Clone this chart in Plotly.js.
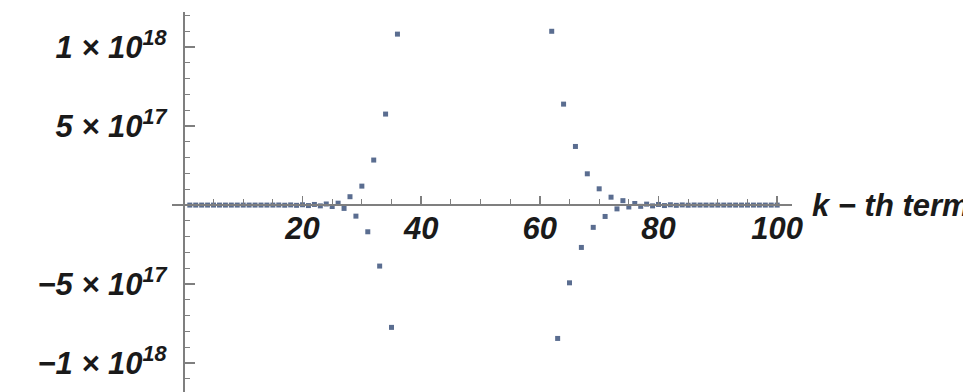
<!DOCTYPE html>
<html>
<head>
<meta charset="utf-8">
<script src="https://cdn.plot.ly/plotly-3.0.1.min.js"></script>
<style>html,body{margin:0;padding:0;background:#fff;}#chart{width:963px;height:392px;}</style>
</head>
<body>
<div id="chart"></div>
<script>
// k-th term index (left group and right group; terms 37..61 lie outside the visible range)
var kLeft = [1,2,3,4,5,6,7,8,9,10,11,12,13,14,15,16,17,18,19,20,21,22,23,24,25,26,27,28,29,30,31,32,33,34,35,36];
var valLeft = [0,0,0,0,0,0,0,0,0,0,0,0,0,0,0,0.0005e18,-0.0008e18,0.001e18,-0.0015e18,0.002e18,-0.003e18,0.004e18,-0.005e18,0.007e18,-0.009e18,0.012e18,
  -0.021e18,0.053e18,-0.070e18,0.120e18,-0.169e18,0.285e18,-0.386e18,0.576e18,-0.774e18,1.082e18];
var kRight = [62,63,64,65,66,67,68,69,70,71,72,73,74,75,76,77,78,79,80,81,82,83,84,85,86,87,88,89,90,91,92,93,94,95,96,97,98,99,100];
var valRight = [1.10e18,-0.844e18,0.639e18,-0.492e18,0.371e18,-0.268e18,0.198e18,-0.141e18,0.103e18,-0.072e18,0.050e18,-0.024e18,0.028e18,
  -0.012e18,0.010e18,-0.008e18,0.006e18,-0.005e18,0.004e18,-0.003e18,0.002e18,-0.0015e18,0.001e18,-0.0008e18,0.0005e18,0,0,0,0,0,0,0,0,0,0,0,0,0,0];

var xTickVals = [20,40,60,80,100];
var xTickText = ['20','40','60','80','100'];
var yTickVals = [-1e18,-5e17,5e17,1e18];
var yTickText = ['\u22121 \u00d7 10<sup>18</sup>','\u22125 \u00d7 10<sup>17</sup>','5 \u00d7 10<sup>17</sup>','1 \u00d7 10<sup>18</sup>'];
var xLabel = 'k \u2212 th term';

var xRange = [-2, 102.5];
var yRange = [-1.183e18, 1.222e18];

var ptColor = '#5a6d90';
var axColor = '#7f7f7f';
var txtFont = {family: 'Liberation Sans, Arial, sans-serif', size: 31, color: '#1a1a1a', style: 'italic', weight: 'bold'};

var traces = [{
  type: 'scatter', mode: 'markers',
  x: kLeft.concat(kRight), y: valLeft.concat(valRight),
  marker: {symbol: 'square', size: 5, color: ptColor},
  cliponaxis: true, hoverinfo: 'skip'
}];

var layout = {
  width: 963, height: 392,
  margin: {l: 172, r: 171, t: 12, b: 0, pad: 0},
  paper_bgcolor: '#ffffff', plot_bgcolor: '#ffffff',
  showlegend: false,
  xaxis: {
    range: xRange, anchor: 'free',
    position: (0 - yRange[0]) / (yRange[1] - yRange[0]),
    showgrid: false, zeroline: false,
    showline: true, linecolor: axColor, linewidth: 2,
    tickmode: 'array', tickvals: xTickVals, ticktext: xTickText,
    ticks: 'inside', ticklen: 8, tickwidth: 1.5, tickcolor: axColor,
    ticklabelstandoff: -4,
    minor: {tickmode: 'linear', tick0: 0, dtick: 5, ticks: 'inside', ticklen: 5, tickwidth: 1.2, tickcolor: axColor},
    tickfont: txtFont
  },
  yaxis: {
    range: yRange, anchor: 'free',
    position: (0 - xRange[0]) / (xRange[1] - xRange[0]),
    showgrid: false, zeroline: false,
    showline: true, linecolor: axColor, linewidth: 2,
    tickmode: 'array', tickvals: yTickVals, ticktext: yTickText,
    ticks: 'inside', ticklen: 10, tickwidth: 1.5, tickcolor: axColor,
    ticklabelstandoff: 10,
    minor: {tickmode: 'linear', tick0: 0, dtick: 1e17, ticks: 'inside', ticklen: 5, tickwidth: 1.2, tickcolor: axColor},
    tickfont: txtFont
  },
  annotations: [{
    xref: 'paper', yref: 'y', x: 1, y: 0, xanchor: 'left', yanchor: 'middle',
    xshift: 18, text: xLabel, showarrow: false, font: {family: txtFont.family, size: 31, color: '#1a1a1a', style: 'italic', weight: 'bold'}
  }]
};

Plotly.newPlot('chart', traces, layout, {staticPlot: true, displayModeBar: false});
</script>
</body>
</html>
